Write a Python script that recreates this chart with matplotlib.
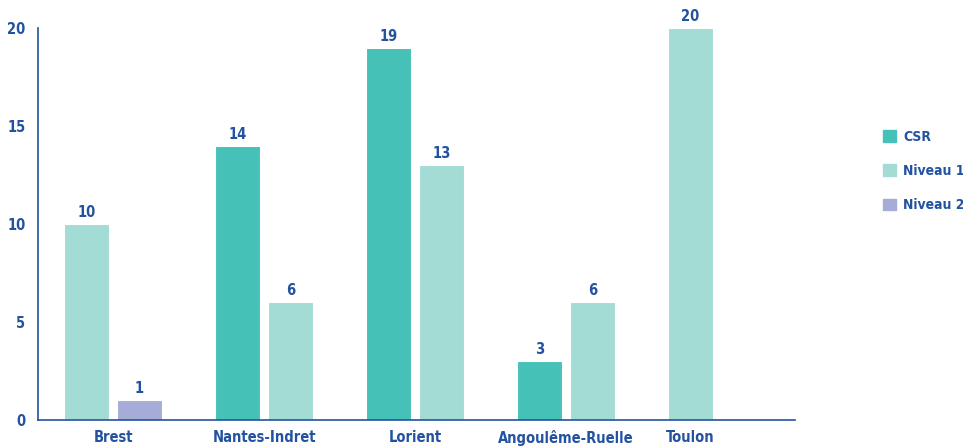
import matplotlib
matplotlib.use("Agg")
import matplotlib.pyplot as plt
from matplotlib.patches import Patch

sites = ["Brest", "Nantes-Indret", "Lorient", "Angoulême-Ruelle", "Toulon"]
series = ["CSR", "Niveau 1", "Niveau 2"]
csr = [0, 14, 19, 3, 0]
niveau1 = [10, 6, 13, 6, 20]
niveau2 = [1, 0, 0, 0, 0]
colors = ["#45c1b7", "#a3dbd5", "#a6acd8"]

text_col = "#2352a0"
plt.rcParams["font.family"] = ["DejaVu Sans"]
plt.rcParams["font.stretch"] = "condensed"
plt.rcParams["font.weight"] = "bold"
fs = 10.5

fig = plt.figure(figsize=(9.63, 4.48), dpi=100)
ax = fig.add_axes([38 / 963, 28 / 448, (795 - 38) / 963, (420 - 28) / 448])

values = [csr, niveau1, niveau2]
bar_w = 45
step = 53
group_gap = 45
cursor = 26
centers = []
for i, site in enumerate(sites):
    xs = []
    for s in range(len(series)):
        v = values[s][i]
        if v == 0:
            continue
        ax.bar(cursor, v, width=bar_w, align="edge", color=colors[s],
               edgecolor="white", linewidth=0.8)
        ax.text(cursor + bar_w / 2, v + 0.2, str(v), ha="center", va="bottom",
                fontsize=fs, fontweight="bold", fontstretch="condensed",
                color=text_col)
        xs.append(cursor + bar_w / 2)
        cursor += step
    centers.append(sum(xs) / len(xs))
    cursor += group_gap

ax.set_xlim(0, 757)
ax.set_ylim(0, 20)
ax.set_yticks([0, 5, 10, 15, 20])
ax.set_xticks(centers)
ax.set_xticklabels(sites)
ax.tick_params(length=0, labelsize=fs, labelcolor=text_col)
ax.tick_params(axis="y", pad=9)
ax.tick_params(axis="x", pad=7)
for lab in ax.get_xticklabels() + ax.get_yticklabels():
    lab.set_fontweight("bold")
    lab.set_fontstretch("condensed")

for side in ["top", "right"]:
    ax.spines[side].set_visible(False)
for side in ["left", "bottom"]:
    ax.spines[side].set_color(text_col)
    ax.spines[side].set_linewidth(1.2)

handles = [Patch(color=c, label=s) for c, s in zip(colors, series)]
leg = fig.legend(handles=handles, loc="center left",
                 bbox_to_anchor=(883 / 963, 1 - 171 / 448), frameon=False,
                 borderpad=0, borderaxespad=0,
                 handlelength=0.9, handleheight=0.9, handletextpad=0.55,
                 labelspacing=1.45,
                 prop=dict(family="DejaVu Sans", size=10, weight="bold",
                           stretch="condensed"))
for t in leg.get_texts():
    t.set_color(text_col)

fig.savefig("out.png", dpi=100)
